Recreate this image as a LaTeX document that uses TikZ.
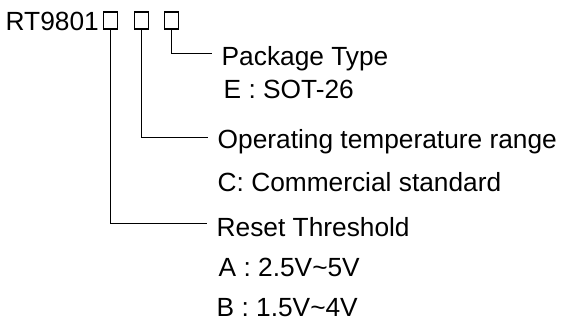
\documentclass[tikz,border=0pt]{standalone}
\usepackage{fontspec}
\setmainfont{Liberation Sans}
\usepackage{tikz}

\tikzset{
  label text/.style={anchor=west,inner sep=0pt,text height=18.8pt,text depth=0pt,
    font=\fontsize{26.3}{30}\selectfont},
  code box/.style={draw,line width=1.4pt,minimum width=14pt,minimum height=17pt,inner sep=0pt}
}

\begin{document}
\begin{tikzpicture}[x=1pt,y=-1pt,line width=1.4pt]
  \useasboundingbox (0,0) rectangle (561,320);

  \node[label text] (part) at (5,21) {RT9801};
  \node[code box] (b1) at (110.3,20.7) {};
  \node[code box] (b2) at (141.3,20.7) {};
  \node[code box] (b3) at (171.7,20.7) {};

  \node[label text] (pkg) at (221,56.3) {Package Type};
  \node[label text] (pkgE) at (223,89) {E : SOT-26};
  \node[label text] (temp) at (217,139) {Operating temperature range};
  \node[label text] (tempC) at (217,182.5) {C: Commercial standard};
  \node[label text] (reset) at (216,227) {Reset Threshold};
  \node[label text] (resetA) at (218,267) {A : 2.5V\textasciitilde 5V};
  \node[label text] (resetB) at (216,307) {B : 1.5V\textasciitilde 4V};

  \draw (b3.south) |- ([xshift=-9.3pt,yshift=3pt]pkg.west);
  \draw (b2.south) |- ([xshift=-9pt,yshift=1.5pt]temp.west);
  \draw (b1.south) |- ([xshift=-9.3pt,yshift=3.7pt]reset.west);
\end{tikzpicture}
\end{document}
